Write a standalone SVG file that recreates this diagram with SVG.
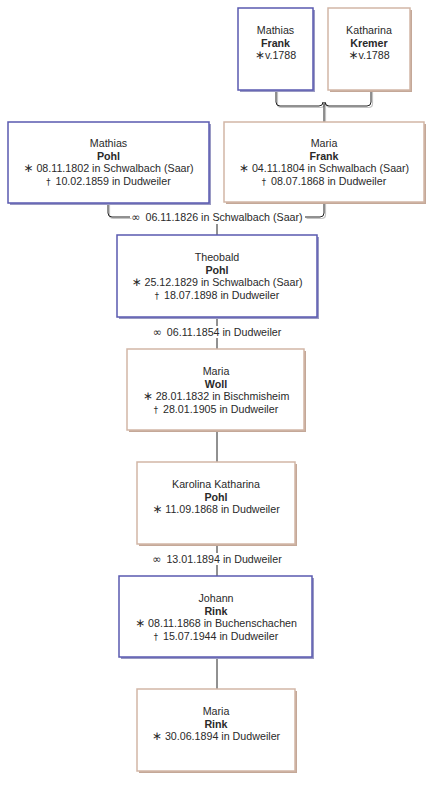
<svg xmlns="http://www.w3.org/2000/svg" width="440" height="787" viewBox="0 0 440 787">
<defs>
<style>
.bg{fill:#ffffff}
.m{fill:#ffffff;stroke:#5a5ab0;stroke-width:1.5}
.f{fill:#ffffff;stroke:#d2b6a6;stroke-width:1.5}
.ms{fill:#9a9ac4}
.fs{fill:#c4a898}
text{font-family:"Liberation Sans",Arial,sans-serif;font-size:10.7px;fill:#2a2a2a;text-anchor:middle}
.b{font-weight:bold}
.sym{font-family:"DejaVu Sans",sans-serif;font-size:12px}
.dg{font-family:"DejaVu Sans",sans-serif;font-size:8.5px}
.mar{font-family:"DejaVu Sans",sans-serif;font-size:11px}
.ln{fill:none;stroke:#222;stroke-width:1}
.sh{fill:none;stroke:#c4c4c4;stroke-width:1.2}
</style>
</defs>
<rect class="bg" x="0" y="0" width="440" height="787"/>
<g id="connectors">
<g transform="translate(1.5,1.5)">
<path class="sh" d="M276,90 V102 Q276,106 280,106 H319 Q323,106 323,102 M371,90 V102 Q371,106 367,106 H329 Q325,106 325,102 M324,102 V122"/>
<path class="sh" d="M108,203 V213 Q108,217 112,217 H130 M305,217 H320 Q324,217 324,213 V202"/>
</g>
<path class="ln" d="M276,90 V102 Q276,106 280,106 H319 Q323,106 323,102 M371,90 V102 Q371,106 367,106 H329 Q325,106 325,102 M324,102 V122"/>
<path class="ln" d="M108,203 V213 Q108,217 112,217 H130 M305,217 H320 Q324,217 324,213 V202"/>
<path class="ln" d="M217,224 V235 M217,317 V326 M217,338 V349 M217,430 V462 M217,544 V553 M217,565 V576 M217,657 V689"/>
<text x="217" y="221"><tspan class="mar">∞</tspan><tspan dx="2"> 06.11.1826 in Schwalbach (Saar)</tspan></text>
<text x="217" y="336"><tspan class="mar">∞</tspan><tspan dx="2"> 06.11.1854 in Dudweiler</tspan></text>
<text x="217" y="563"><tspan class="mar">∞</tspan><tspan dx="2"> 13.01.1894 in Dudweiler</tspan></text>
</g>
<g id="mathias-frank">
<rect class="ms" x="240" y="10" width="75" height="82"/>
<rect class="m" x="238" y="8" width="75" height="82"/>
<text x="275.5" y="34">Mathias</text>
<text class="b" x="275.5" y="47">Frank</text>
<text x="275.5" y="59"><tspan class="sym">∗</tspan>v.1788</text>
</g>
<g id="katharina-kremer">
<rect class="fs" x="330" y="10" width="82" height="82"/>
<rect class="f" x="328" y="8" width="82" height="82"/>
<text x="369" y="34">Katharina</text>
<text class="b" x="369" y="47">Kremer</text>
<text x="369" y="59"><tspan class="sym">∗</tspan>v.1788</text>
</g>
<g id="mathias-pohl">
<rect class="ms" x="10" y="124" width="201" height="81"/>
<rect class="m" x="8" y="122" width="201" height="81"/>
<text x="108.5" y="147">Mathias</text>
<text class="b" x="108.5" y="160">Pohl</text>
<text x="108.5" y="172"><tspan class="sym">∗</tspan> 08.11.1802 in Schwalbach (Saar)</text>
<text x="108.5" y="184.5"><tspan class="dg">†</tspan><tspan dx="2"> 10.02.1859 in Dudweiler</tspan></text>
</g>
<g id="maria-frank">
<rect class="fs" x="226" y="124" width="200" height="80"/>
<rect class="f" x="224" y="122" width="200" height="80"/>
<text x="324" y="147">Maria</text>
<text class="b" x="324" y="160">Frank</text>
<text x="324" y="172"><tspan class="sym">∗</tspan> 04.11.1804 in Schwalbach (Saar)</text>
<text x="324" y="184.5"><tspan class="dg">†</tspan><tspan dx="2"> 08.07.1868 in Dudweiler</tspan></text>
</g>
<g id="theobald-pohl">
<rect class="ms" x="119" y="237" width="200" height="82"/>
<rect class="m" x="117" y="235" width="200" height="82"/>
<text x="217" y="261">Theobald</text>
<text class="b" x="217" y="274">Pohl</text>
<text x="217" y="286"><tspan class="sym">∗</tspan> 25.12.1829 in Schwalbach (Saar)</text>
<text x="217" y="298.5"><tspan class="dg">†</tspan><tspan dx="2"> 18.07.1898 in Dudweiler</tspan></text>
</g>
<g id="maria-woll">
<rect class="fs" x="129" y="351" width="177" height="81"/>
<rect class="f" x="127" y="349" width="177" height="81"/>
<text x="216" y="375">Maria</text>
<text class="b" x="216" y="388">Woll</text>
<text x="216" y="400"><tspan class="sym">∗</tspan> 28.01.1832 in Bischmisheim</text>
<text x="216" y="412.5"><tspan class="dg">†</tspan><tspan dx="2"> 28.01.1905 in Dudweiler</tspan></text>
</g>
<g id="karolina-katharina-pohl">
<rect class="fs" x="139" y="464" width="158" height="82"/>
<rect class="f" x="137" y="462" width="158" height="82"/>
<text x="216" y="488">Karolina Katharina</text>
<text class="b" x="216" y="501">Pohl</text>
<text x="216" y="513"><tspan class="sym">∗</tspan> 11.09.1868 in Dudweiler</text>
</g>
<g id="johann-rink">
<rect class="ms" x="121" y="578" width="193" height="81"/>
<rect class="m" x="119" y="576" width="193" height="81"/>
<text x="216" y="602">Johann</text>
<text class="b" x="216" y="615">Rink</text>
<text x="216" y="627"><tspan class="sym">∗</tspan> 08.11.1868 in Buchenschachen</text>
<text x="216" y="639.5"><tspan class="dg">†</tspan><tspan dx="2"> 15.07.1944 in Dudweiler</tspan></text>
</g>
<g id="maria-rink">
<rect class="fs" x="139" y="691" width="158" height="82"/>
<rect class="f" x="137" y="689" width="158" height="82"/>
<text x="216" y="715">Maria</text>
<text class="b" x="216" y="728">Rink</text>
<text x="216" y="740"><tspan class="sym">∗</tspan> 30.06.1894 in Dudweiler</text>
</g>
</svg>
